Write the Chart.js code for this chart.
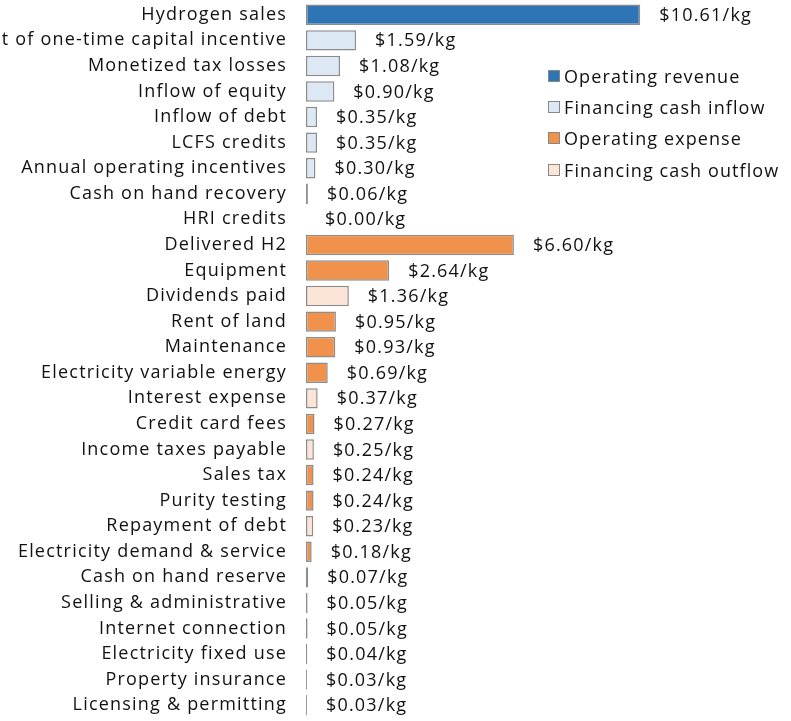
<!DOCTYPE html>
<html>
<head>
<meta charset="utf-8">
<script src="https://cdn.jsdelivr.net/npm/chart.js@4.4.1/dist/chart.umd.min.js"></script>
<style>
    html, body { margin: 0; padding: 0; background: #fff; }
    #wrap { position: relative; width: 791px; height: 721px; }
    #legend {
        position: absolute; left: 548px; top: 60px;
        font-family: "Open Sans", Lato, sans-serif; font-size: 18px; color: #111;
        letter-spacing: 1.1px;
    }
    #legend .item { display: flex; align-items: center; height: 31.3px; }
    #legend .box { width: 12px; height: 12px; border: 1px solid #888; margin-right: 4px; box-sizing: border-box; }
</style>
</head>
<body>
<div id="wrap">
    <canvas id="chart" width="791" height="721"></canvas>
    <div id="legend"></div>
</div>
<script>
const categories = [
    "Hydrogen sales",
    "Receipt of one-time capital incentive",
    "Monetized tax losses",
    "Inflow of equity",
    "Inflow of debt",
    "LCFS credits",
    "Annual operating incentives",
    "Cash on hand recovery",
    "HRI credits",
    "Delivered H2",
    "Equipment",
    "Dividends paid",
    "Rent of land",
    "Maintenance",
    "Electricity variable energy",
    "Interest expense",
    "Credit card fees",
    "Income taxes payable",
    "Sales tax",
    "Purity testing",
    "Repayment of debt",
    "Electricity demand & service",
    "Cash on hand reserve",
    "Selling & administrative",
    "Internet connection",
    "Electricity fixed use",
    "Property insurance",
    "Licensing & permitting",
];

// $/kg per category, null where the category belongs to another group
const operatingRevenue = [10.61, null, null, null, null, null, null, 0.06, null,
    null, null, null, null, null, null, null, null, null, null, null, null, null, null, null, null, null, null, null];
const financingInflow = [null, 1.59, 1.08, 0.90, 0.35, 0.35, 0.30, null, 0.00,
    null, null, null, null, null, null, null, null, null, null, null, null, null, null, null, null, null, null, null];
const operatingExpense = [null, null, null, null, null, null, null, null, null,
    6.60, 2.64, null, 0.95, 0.93, 0.69, null, 0.27, null, 0.24, 0.24, null, 0.18, 0.07, 0.05, 0.05, 0.04, 0.03, 0.03];
const financingOutflow = [null, null, null, null, null, null, null, null, null,
    null, null, 1.36, null, null, null, 0.37, null, 0.25, null, null, 0.23, null, null, null, null, null, null, null];

const FONT = "'Open Sans', Lato, sans-serif";
const SPACING = "1.2px";

// wider letter spacing, like the original rendering
const spacing = {
    id: "spacing",
    beforeDraw(chart) { chart.ctx.letterSpacing = SPACING; },
};

// value labels at the end of each bar
const valueLabels = {
    id: "valueLabels",
    afterDatasetsDraw(chart) {
        const ctx = chart.ctx;
        ctx.save();
        ctx.letterSpacing = SPACING;
        ctx.font = "18px " + FONT;
        ctx.fillStyle = "#111";
        ctx.textAlign = "left";
        ctx.textBaseline = "middle";
        chart.data.datasets.forEach((ds, di) => {
            const meta = chart.getDatasetMeta(di);
            ds.data.forEach((v, i) => {
                if (v === null) return;
                const bar = meta.data[i];
                ctx.fillText("$" + v.toFixed(2) + "/kg", bar.x + 19, bar.y + 1);
            });
        });
        ctx.restore();
    },
};

const ctx = document.getElementById("chart").getContext("2d");
const chart = new Chart(ctx, {
    type: "bar",
    data: {
        labels: categories,
        datasets: [
            { label: "Operating revenue", data: operatingRevenue, backgroundColor: "#2e75b6" },
            { label: "Financing cash inflow", data: financingInflow, backgroundColor: "#dde8f5" },
            { label: "Operating expense", data: operatingExpense, backgroundColor: "#f0914c" },
            { label: "Financing cash outflow", data: financingOutflow, backgroundColor: "#fce4d6" },
        ].map((d) => ({
            ...d,
            borderColor: "#8c8c8c",
            borderWidth: 1.5,
            borderSkipped: false,
            barPercentage: 0.8,
            categoryPercentage: 1,
        })),
    },
    options: {
        indexAxis: "y",
        responsive: false,
        animation: false,
        layout: { padding: { top: 2, bottom: 3, right: 44 } },
        plugins: { legend: { display: false }, tooltip: { enabled: false } },
        scales: {
            x: { display: false, stacked: true, min: 0, max: 14 },
            y: {
                stacked: true,
                grid: { display: false, drawTicks: false },
                border: { display: false },
                ticks: { padding: 19, color: "#111", font: { family: FONT, size: 18 } },
                afterFit(scale) {
                    scale.width = 306;
                    scale.paddingTop = 0;
                    scale.paddingBottom = 0;
                },
            },
        },
    },
    plugins: [spacing, valueLabels],
});

// legend
const legend = document.getElementById("legend");
chart.data.datasets.forEach((ds) => {
    const item = document.createElement("div");
    item.className = "item";
    item.innerHTML = '<span class="box" style="background:' + ds.backgroundColor + '"></span>' + ds.label;
    legend.appendChild(item);
});
</script>
</body>
</html>
